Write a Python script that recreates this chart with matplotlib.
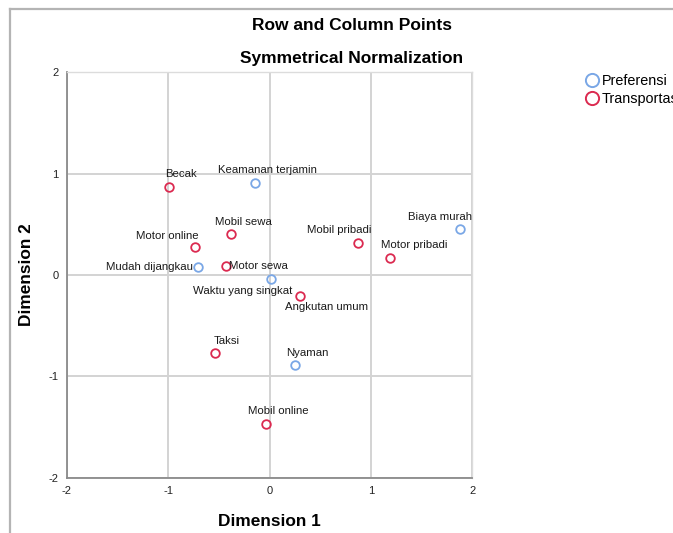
import matplotlib
matplotlib.use("Agg")
import matplotlib.pyplot as plt
from matplotlib.lines import Line2D

plt.rcParams['font.family'] = ['Liberation Sans', 'DejaVu Sans']

# ---- data ----
pref_labels = ["Keamanan terjamin", "Mudah dijangkau", "Waktu yang singkat", "Biaya murah", "Nyaman"]
pref_x = [-0.14, -0.71, 0.01, 1.88, 0.25]
pref_y = [0.91, 0.08, -0.04, 0.45, -0.89]

trans_labels = ["Becak", "Mobil sewa", "Motor online", "Motor sewa", "Angkutan umum",
                "Mobil pribadi", "Motor pribadi", "Taksi", "Mobil online"]
trans_x = [-0.99, -0.38, -0.73, -0.43, 0.30, 0.87, 1.19, -0.54, -0.03]
trans_y = [0.87, 0.40, 0.28, 0.09, -0.21, 0.32, 0.17, -0.77, -1.47]

ticks = [-2, -1, 0, 1, 2]
series_names = ["Preferensi", "Transportasi"]

# ---- label placement (pixel offsets, ha) ----
default_off = (12, 12.5, 'center')
label_off = {
    "Motor online": (-28, 11, 'center'),
    "Mudah dijangkau": (-5, 0, 'right'),
    "Motor sewa": (3, 0, 'left'),
    "Waktu yang singkat": (-28, -11.5, 'center'),
    "Angkutan umum": (27, -11, 'center'),
    "Mobil pribadi": (-18, 12.5, 'center'),
    "Motor pribadi": (24.5, 12.5, 'center'),
    "Biaya murah": (-20.5, 12.5, 'center'),
}

blue = "#7aa7e6"
red = "#db2a50"

W, H = 673, 533
fig = plt.figure(figsize=(W / 100, H / 100), dpi=100)
ax_w, ax_h = 405.6, 405.4
ax = fig.add_axes([66.7 / W, 1 - 477.7 / H, ax_w / W, ax_h / H])

ax.set_xlim(-2, 2)
ax.set_ylim(-2, 2)
ax.set_xticks(ticks)
ax.set_yticks(ticks)
ax.set_xticklabels([str(t) for t in ticks])
ax.set_yticklabels([str(t) for t in ticks])
ax.grid(True, color="#d3d3d3", linewidth=1.4, zorder=0)
ax.set_axisbelow(True)
ax.tick_params(length=0, labelsize=8, colors="#222222", pad=6)
for s in ["left", "bottom"]:
    ax.spines[s].set_color("#8a8a8a")
    ax.spines[s].set_linewidth(1.3)
for s in ["top", "right"]:
    ax.spines[s].set_color("#dcdcdc")
    ax.spines[s].set_linewidth(1.0)

ax.plot(pref_x, pref_y, linestyle='none', marker='o', markersize=6.2,
        markerfacecolor='none', markeredgecolor=blue, markeredgewidth=1.3, zorder=3)
ax.plot(trans_x, trans_y, linestyle='none', marker='o', markersize=6.2,
        markerfacecolor='none', markeredgecolor=red, markeredgewidth=1.3, zorder=3)

for labs, xs, ys in [(pref_labels, pref_x, pref_y), (trans_labels, trans_x, trans_y)]:
    for lab, x, y in zip(labs, xs, ys):
        dx, dy, ha = label_off.get(lab, default_off)
        ax.annotate(lab, (x, y), xytext=(dx, dy), textcoords='offset pixels',
                    ha=ha, va='center', fontsize=8.2, color="#1a1a1a", zorder=4)

ax.set_xlabel("Dimension 1", fontsize=12.4, fontweight='bold', va='center')
ax.xaxis.set_label_coords(0.5, -(522 - 477.7) / ax_h)
ax.set_ylabel("Dimension 2", fontsize=12.4, fontweight='bold', va='center')
ax.yaxis.set_label_coords(-(66.7 - 27) / ax_w, 0.5)

fig.text(352 / W, 1 - 25 / H, "Row and Column Points", ha='center', va='center',
         fontsize=12.5, fontweight='bold')
fig.text(352 / W, 1 - 58 / H, "Symmetrical Normalization", ha='center', va='center',
         fontsize=12.5, fontweight='bold')

handles = [Line2D([], [], linestyle='none', marker='o', markersize=9.5, markerfacecolor='none',
                  markeredgecolor=c, markeredgewidth=1.4) for c in (blue, red)]
fig.legend(handles, series_names, loc='upper left', bbox_to_anchor=(586 / W, 1 - 74 / H),
           frameon=False, fontsize=10.4, handlelength=0.8, handletextpad=0.3,
           labelspacing=0.3, borderaxespad=0, borderpad=0)

# outer frame (top and left edges visible)
fig.add_artist(Line2D([10 / W, 10 / W], [0, 1 - 9 / H], transform=fig.transFigure,
                      color="#b4b4b4", linewidth=1.6))
fig.add_artist(Line2D([10 / W, 1], [1 - 9 / H, 1 - 9 / H], transform=fig.transFigure,
                      color="#b4b4b4", linewidth=1.6))

fig.savefig("out.png", dpi=100)
